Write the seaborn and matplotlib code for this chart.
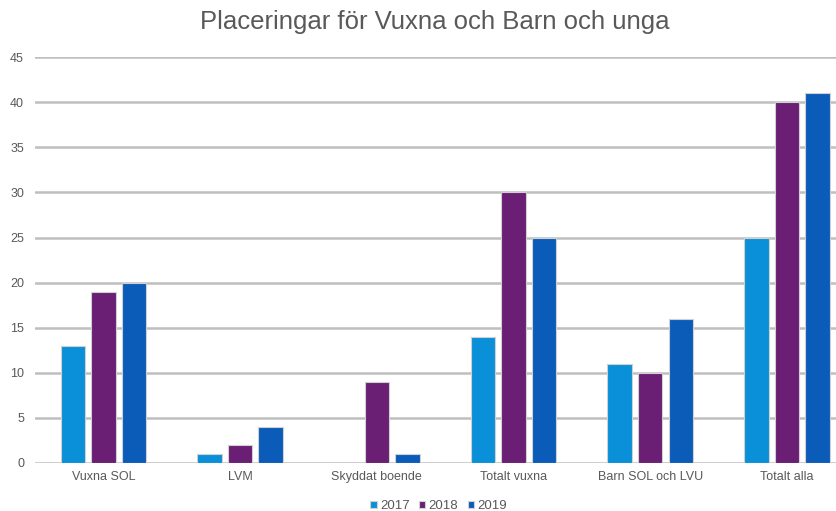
import pandas as pd
import seaborn as sns
import matplotlib.pyplot as plt

kategorier = ["Vuxna SOL", "LVM", "Skyddat boende", "Totalt vuxna", "Barn SOL och LVU", "Totalt alla"]
ar = ["2017", "2018", "2019"]
v2017 = [13, 1, 0, 14, 11, 25]
v2018 = [19, 2, 9, 30, 10, 40]
v2019 = [20, 4, 1, 25, 16, 41]
yticks = list(range(0, 50, 5))
farger = ["#0A90D8", "#6A1F74", "#0A5CB8"]

df = pd.DataFrame({
    "kategori": kategorier * 3,
    "ar": [a for a in ar for _ in kategorier],
    "antal": v2017 + v2018 + v2019,
})

sns.set_style("white")
plt.rcParams["font.family"] = ["Liberation Sans", "DejaVu Sans"]

fig = plt.figure(figsize=(8.36, 5.11), dpi=100)
# the plot area runs a bit past the right edge of the picture, as in the original
ax = fig.add_axes([0.042, 0.094, 0.981, 0.794])

sns.barplot(data=df, x="kategori", y="antal", hue="ar", order=kategorier,
            hue_order=ar, palette=farger, saturation=1, width=0.67, gap=0.2,
            edgecolor="#D0D0D0", linewidth=0.8, ax=ax, zorder=3)

ax.set_xlim(-0.5, 5.5)
ax.set_ylim(0, 45)
ax.set_yticks(yticks)
ax.yaxis.grid(True, color="#BFBFBF", linewidth=1.8, zorder=0)
ax.set_axisbelow(True)
for s in ax.spines.values():
    s.set_visible(False)
ax.tick_params(axis="both", length=0, labelsize=9, labelcolor="#595959", pad=6)
ax.tick_params(axis="y", pad=8)
ax.set_xlabel("")
ax.set_ylabel("")

fig.text(0.52, 0.957, "Placeringar för Vuxna och Barn och unga",
         ha="center", va="center", fontsize=18.5, color="#595959")

ax.legend(loc="lower center", bbox_to_anchor=(0.492, -0.15), ncol=3,
          frameon=False, fontsize=9.5, labelcolor="#595959",
          handlelength=0.5, handleheight=0.5, handletextpad=0.25,
          columnspacing=0.7)

fig.savefig("out.png", dpi=100)
